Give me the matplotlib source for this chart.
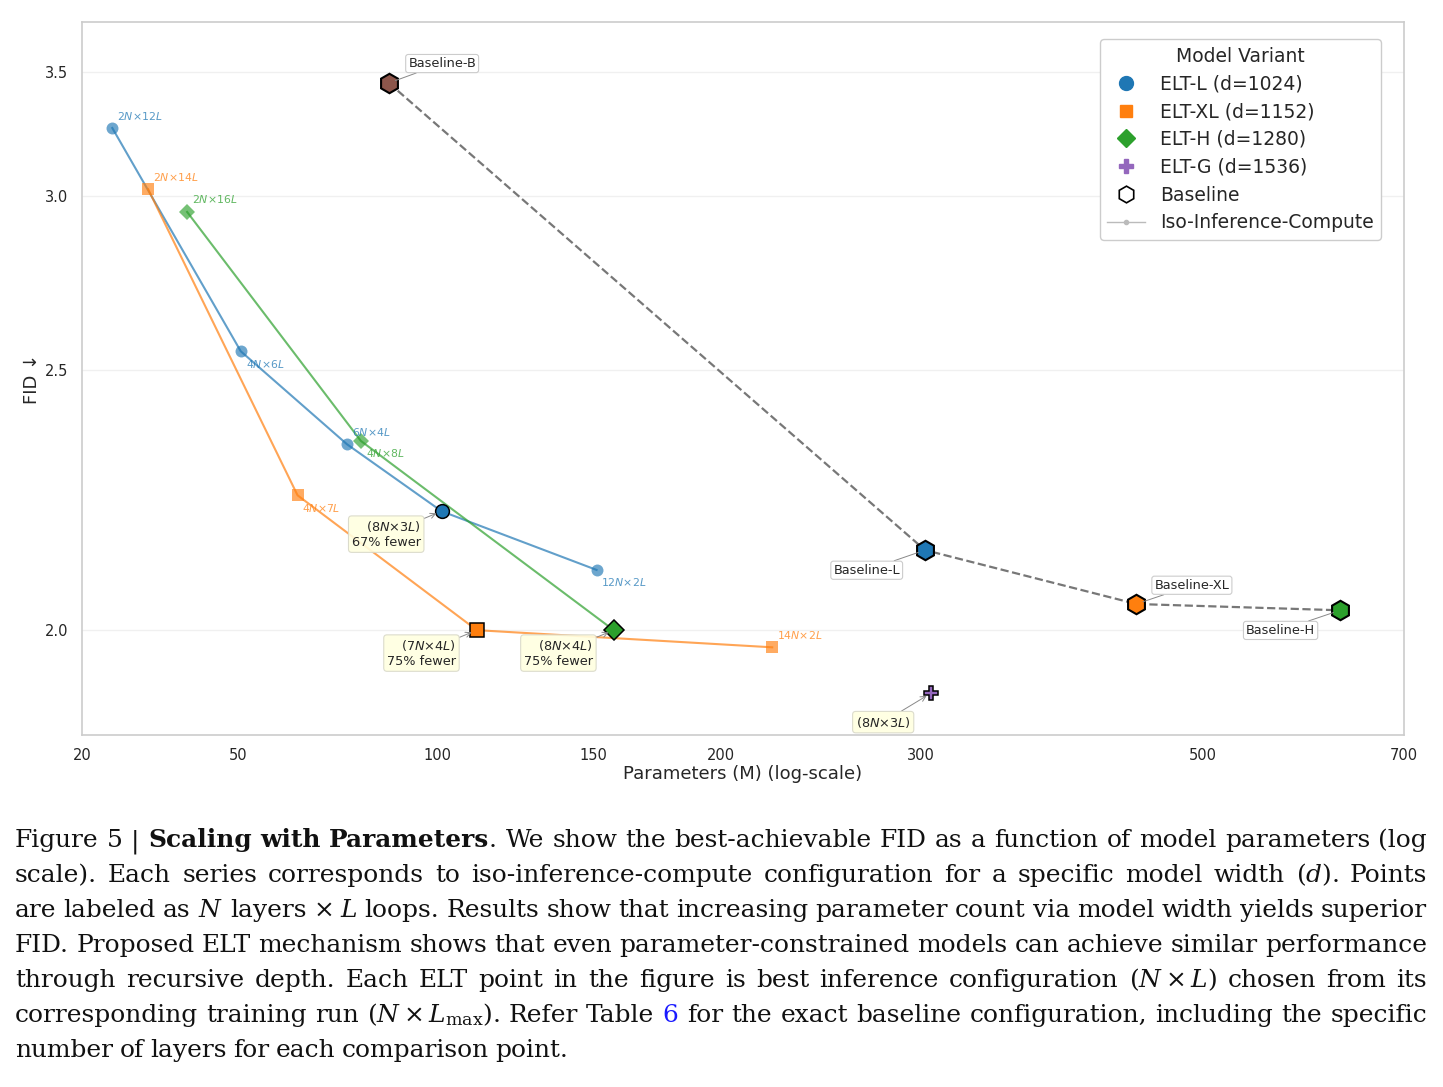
import re
import numpy as np
import matplotlib
matplotlib.use('Agg')
import matplotlib.pyplot as plt
from matplotlib.lines import Line2D
from matplotlib.ticker import FixedLocator, FixedFormatter, NullLocator

# ---- data (params in M, FID) ----
elt_l_params = [23.9, 50.5, 73, 101, 151]
elt_l_fid = [3.255, 2.545, 2.333, 2.201, 2.097]
elt_l_cfg = [r'$2N{\times}12L$', r'$4N{\times}6L$', r'$6N{\times}4L$', r'$8N{\times}3L$', r'$12N{\times}2L$']
elt_l_best = 3
elt_l_note = '67% fewer'

elt_xl_params = [29.5, 61.5, 110.7, 222]
elt_xl_fid = [3.024, 2.231, 2.0, 1.974]
elt_xl_cfg = [r'$2N{\times}14L$', r'$4N{\times}7L$', r'$7N{\times}4L$', r'$14N{\times}2L$']
elt_xl_best = 2
elt_xl_note = '75% fewer'

elt_h_params = [37.1, 76.6, 157]
elt_h_fid = [2.946, 2.340, 2.0]
elt_h_cfg = [r'$2N{\times}16L$', r'$4N{\times}8L$', r'$8N{\times}4L$']
elt_h_best = 2
elt_h_note = '75% fewer'

elt_g_params = [305.5]
elt_g_fid = [1.908]
elt_g_cfg = [r'$8N{\times}3L$']
elt_g_best = 0
elt_g_note = None

baseline_names = ['Baseline-B', 'Baseline-L', 'Baseline-XL', 'Baseline-H']
baseline_params = [84.4, 302, 443, 629]
baseline_fid = [3.449, 2.131, 2.041, 2.031]

x_ticks = [20, 50, 100, 150, 200, 300, 500, 700]
y_ticks = [2.0, 2.5, 3.0, 3.5]

# ---- styling ----
C_L, C_XL, C_H, C_G, C_B = '#1f77b4', '#ff7f0e', '#2ca02c', '#9467bd', '#8c564b'

W, H = 1443, 1087
fig = plt.figure(figsize=(W / 100, H / 100), dpi=100)
ax = fig.add_axes([82 / W, 1 - 735 / H, 1322 / W, 713 / H])

# x axis: tick positions of the original (px) -> piecewise log scale
cal_v = np.log10(x_ticks)
cal_p = np.array([81, 237, 437, 593, 720, 921, 1203, 1404.0])
s0 = (cal_p[1] - cal_p[0]) / (cal_v[1] - cal_v[0])
s1 = (cal_p[-1] - cal_p[-2]) / (cal_v[-1] - cal_v[-2])
cal_v = np.concatenate([[-3], cal_v, [7]])
cal_p = np.concatenate([[cal_p[0] - s0 * (cal_v[1] + 3)], cal_p, [cal_p[-1] + s1 * (7 - cal_v[-2])]])


def xfwd(x):
    x = np.asarray(x, dtype=float)
    return np.interp(np.log10(np.clip(x, 1e-3, 1e7)), cal_v, cal_p)


def xinv(p):
    return 10 ** np.interp(np.asarray(p, dtype=float), cal_p, cal_v)


def yfwd(y):
    y = np.asarray(y, dtype=float)
    with np.errstate(divide='ignore'):
        return -1.0 / np.where(y == 0, 1e-9, y)


def yinv(v):
    v = np.asarray(v, dtype=float)
    with np.errstate(divide='ignore'):
        return -1.0 / np.where(v == 0, -1e-9, v)


ax.set_xscale('function', functions=(xfwd, xinv))
ax.set_yscale('function', functions=(yfwd, yinv))
ax.set_xlim(20, 700)
ax.set_ylim(1.851, 3.752)
ax.xaxis.set_major_locator(FixedLocator(x_ticks))
ax.xaxis.set_major_formatter(FixedFormatter([str(t) for t in x_ticks]))
ax.xaxis.set_minor_locator(NullLocator())
ax.yaxis.set_major_locator(FixedLocator(y_ticks))
ax.yaxis.set_major_formatter(FixedFormatter(['%.1f' % t for t in y_ticks]))
ax.yaxis.set_minor_locator(NullLocator())
ax.tick_params(length=0, labelsize=10.5, labelcolor='#262626')
ax.tick_params(axis='x', pad=9)
ax.tick_params(axis='y', pad=10)
for sp in ax.spines.values():
    sp.set_color('#cccccc')
    sp.set_linewidth(1.2)
ax.grid(axis='y', color='#f0f0f0', lw=1)
ax.set_axisbelow(True)
ax.set_xlabel('Parameters (M) (log-scale)', fontsize=13, color='#262626', labelpad=2)
ax.set_ylabel('FID ↓', fontsize=13, color='#262626', labelpad=3)

# baselines
ax.plot(baseline_params, baseline_fid, ls='--', color='#777777', lw=1.6, zorder=1)
b_cols = [C_B, C_L, C_XL, C_H]
b_off = [(14, 14, 'left'), (-18, -14.5, 'right'), (13, 13.5, 'left'), (-18, -14.5, 'right')]
for name, x, y, c, (dx, dy, ha) in zip(baseline_names, baseline_params, baseline_fid, b_cols, b_off):
    ax.plot(x, y, 'h', ms=14, mfc=c, mec='black', mew=1.5, zorder=6)
    ax.annotate(name, (x, y), xytext=(dx, dy), textcoords='offset points', ha=ha, va='center',
                fontsize=9.3, color='#262626',
                bbox=dict(boxstyle='round,pad=0.2', fc='white', ec='#cccccc', lw=0.8),
                arrowprops=dict(arrowstyle='-', color='#888888', lw=0.7, shrinkA=0, shrinkB=5),
                zorder=7)

# ELT series
series = [
    (elt_l_params, elt_l_fid, elt_l_cfg, elt_l_best, elt_l_note, C_L, 'o', [1, -1, 1, 0, -1]),
    (elt_xl_params, elt_xl_fid, elt_xl_cfg, elt_xl_best, elt_xl_note, C_XL, 's', [1, -1, 0, 1]),
    (elt_h_params, elt_h_fid, elt_h_cfg, elt_h_best, elt_h_note, C_H, 'D', [1, -1, 0]),
    (elt_g_params, elt_g_fid, elt_g_cfg, elt_g_best, elt_g_note, C_G, 'P', [0]),
]
ms_base = {'o': 8.6, 's': 8.6, 'D': 8.4, 'P': 9}
for px, fy, cfg, best, note, c, mk, side in series:
    if len(px) > 1:
        ax.plot(px, fy, color=c, lw=1.5, alpha=0.7, zorder=2)
    for i, (x, y, lab) in enumerate(zip(px, fy, cfg)):
        if i == best:
            ax.plot(x, y, mk, ms=ms_base[mk] + 1.3, mfc=c, mec='black', mew=1.1, zorder=5)
            txt = '(' + lab + ')' + ('\n' + note if note else '')
            dy = -16.5 if note else -21
            ax.annotate(txt, (x, y), xytext=(-15, dy), textcoords='offset points',
                        ha='right', va='center', multialignment='right',
                        fontsize=9.3, color='#262626',
                        bbox=dict(boxstyle='round,pad=0.25', fc='#ffffe0', ec='#d8d8c8', lw=0.8, alpha=0.9),
                        arrowprops=dict(arrowstyle='->', color='#888888', lw=0.7, shrinkA=0, shrinkB=4),
                        zorder=7)
        else:
            ax.plot(x, y, mk, ms=ms_base[mk], color=c, alpha=0.65, mew=0, zorder=3)
            s = side[i]
            ax.annotate(lab, (x, y), xytext=(3.5, 9 * s), textcoords='offset points',
                        ha='left', va='center', fontsize=7.8, color=c, alpha=0.75, zorder=4)

# legend
handles = [
    Line2D([], [], ls='', marker='o', ms=10, color=C_L, label='ELT-L (d=1024)'),
    Line2D([], [], ls='', marker='s', ms=9, color=C_XL, label='ELT-XL (d=1152)'),
    Line2D([], [], ls='', marker='D', ms=9, color=C_H, label='ELT-H (d=1280)'),
    Line2D([], [], ls='', marker='P', ms=10, color=C_G, label='ELT-G (d=1536)'),
    Line2D([], [], ls='', marker='h', ms=12, mfc='white', mec='black', mew=1.2, label='Baseline'),
    Line2D([], [], color='#bbbbbb', lw=1, marker='o', ms=3, label='Iso-Inference-Compute'),
]
leg = ax.legend(handles=handles, title='Model Variant', loc='upper right',
                bbox_to_anchor=((1381 - 82) / 1322, 1 - (39 - 22) / 713), borderaxespad=0,
                fontsize=13.5, title_fontsize=13.5, labelspacing=0.47, handletextpad=0.8,
                borderpad=0.4, frameon=True, fancybox=True, edgecolor='#cccccc', framealpha=1)
for t in leg.get_texts():
    t.set_color('#262626')
leg.get_title().set_color('#262626')

# ---- caption (justified lines) ----
cap_lines = [
    "Figure 5 | **Scaling** **with** **Parameters**. We show the best-achievable FID as a function of model parameters (log",
    "scale). Each series corresponds to iso-inference-compute configuration for a specific model width ($d$). Points",
    r"are labeled as $N$ layers $\times$ $L$ loops. Results show that increasing parameter count via model width yields superior",
    "FID. Proposed ELT mechanism shows that even parameter-constrained models can achieve similar performance",
    r"through recursive depth. Each ELT point in the figure is best inference configuration ($N\times{L}$) chosen from its",
    r"corresponding training run ($N\times{L}_{\max}$). Refer Table ##6## for the exact baseline configuration, including the specific",
    "number of layers for each comparison point.",
]
cap_left, cap_right = 15, 1427
cap_base = [847, 882, 917, 952, 987, 1022, 1057]
fig.canvas.draw()
rend = fig.canvas.get_renderer()


def build_words(line, yb, fs):
    words = []
    for w in line.split(' '):
        pieces = []
        for part in re.split(r'(\*\*.*?\*\*|##.*?##)', w):
            if not part:
                continue
            kw = {'color': '#111111'}
            if part.startswith('**'):
                part, kw['weight'] = part[2:-2], 'bold'
            elif part.startswith('##'):
                part, kw['color'] = part[2:-2], '#1a1aff'
            t = fig.text(0, 1 - yb / H, part, fontsize=fs, family='DejaVu Serif',
                         math_fontfamily='dejavuserif', va='baseline', ha='left', **kw)
            pieces.append((t, t.get_window_extent(rend).width))
        words.append(pieces)
    return words


# size the caption font so the widest line fits with normal word spacing
probe_fs = 10.0
ratio = []
for line in cap_lines[:-1]:
    ws = build_words(line, 0, probe_fs)
    total = sum(pw for wd in ws for _, pw in wd) + (len(ws) - 1) * 0.26 * probe_fs * 100 / 72
    ratio.append((cap_right - cap_left) / total)
    for wd in ws:
        for t, _ in wd:
            t.remove()
cap_fs = probe_fs * min(ratio)

for li, (line, yb) in enumerate(zip(cap_lines, cap_base)):
    words = build_words(line, yb, cap_fs)
    widths = [sum(p[1] for p in wd) for wd in words]
    if li < len(cap_lines) - 1:
        gap = (cap_right - cap_left - sum(widths)) / (len(words) - 1)
    else:
        gap = 0.26 * cap_fs * 100 / 72
    x = cap_left
    for wd, ww in zip(words, widths):
        xx = x
        for t, pw in wd:
            t.set_x(xx / W)
            xx += pw
        x += ww + gap

fig.savefig('out.png', dpi=100)
